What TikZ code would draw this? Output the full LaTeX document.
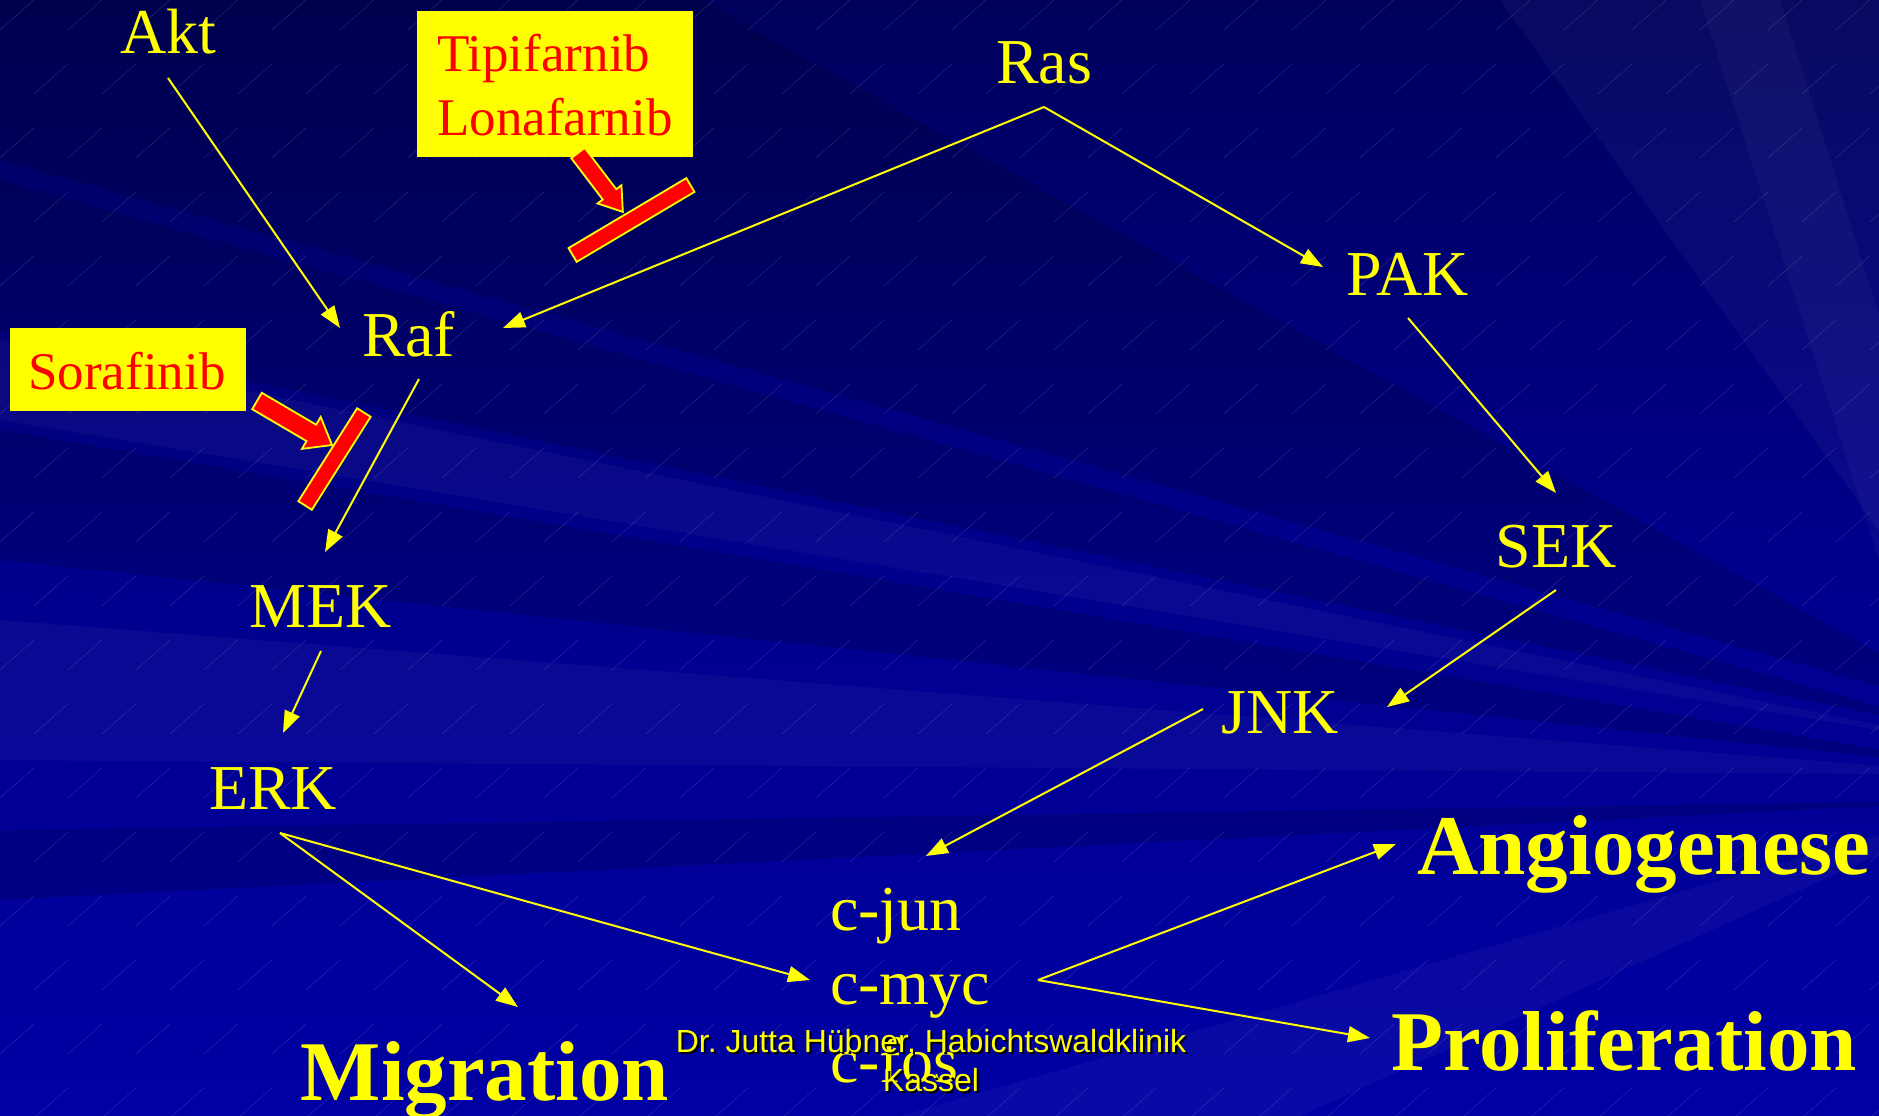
\documentclass[tikz,border=0pt]{standalone}
\usepackage{fontspec}
\setmainfont{Liberation Serif}
\newfontfamily\footfont{Liberation Sans}
\usetikzlibrary{arrows.meta}
\definecolor{bgdark}{HTML}{00005C}
\definecolor{bgmid}{HTML}{00008C}
\definecolor{bglight}{HTML}{0000A4}
\definecolor{ylw}{HTML}{FFFF00}
\definecolor{rd}{HTML}{FF0000}
\tikzset{
  lbl/.style={text=ylw, font=\fontsize{64}{72}\selectfont, inner sep=0pt, anchor=base},
  biglbl/.style={text=ylw, font=\bfseries\fontsize{85}{96}\selectfont, inner sep=0pt, anchor=base},
  drugbox/.style={fill=ylw, inner sep=0pt, draw=none},
  drugtxt/.style={text=rd, font=\fontsize{53}{63}\selectfont, inner sep=0pt},
  conn/.style={draw=ylw, line width=2pt, -{Triangle[length=22pt,width=16pt]}},
  blockarrow/.style={fill=rd, draw=ylw, line width=1.8pt, line join=miter},
  inhibbar/.style={fill=rd, draw=ylw, line width=1.8pt, inner sep=0pt, rectangle},
  ray/.style={fill=white, opacity=0.035},
  darkray/.style={fill=black, opacity=0.14},
  hatch/.style={draw=white, opacity=0.15, line width=0.5pt},
  footer/.style={font=\footfont\fontsize{32}{38}\selectfont, inner sep=0pt, anchor=base}
}
\begin{document}
\begin{tikzpicture}[x=1pt,y=-1pt]
\useasboundingbox (0,0) rectangle (1879,1116);
% background
\shade[top color=bgdark, bottom color=bglight, middle color=bgmid] (0,0) rectangle (1879,1116);
\fill[darkray] (0,0) -- (700,0) -- (2000,720) -- (0,160) -- cycle;
\fill[darkray] (0,180) -- (0,330) -- (2000,740) -- cycle;
\fill[darkray] (0,430) -- (0,560) -- (2000,770) -- cycle;
\fill[darkray] (0,830) -- (0,900) -- (2000,800) -- cycle;
\fill[ray] (0,340) -- (0,420) -- (2000,750) -- cycle;
\fill[ray] (0,620) -- (0,760) -- (2000,775) -- cycle;
\fill[ray] (1500,0) -- (1780,0) -- (2000,700) -- cycle;
\fill[ray] (1700,0) -- (1879,0) -- (1879,560) -- cycle;
\fill[ray] (900,1116) -- (1300,1116) -- (2000,800) -- cycle;
\foreach \i in {-8,...,30} {
  \foreach \j in {0,...,17} {
    \draw[hatch] ({\i*68+\j*34},{\j*64+30}) -- ++(34,-30);
  }
}
% drug boxes
\node[drugbox, minimum width=276pt, minimum height=146pt] (tipibox) at (555,84) {};
\node[drugtxt, anchor=base west] (tipi) at (437,72) {Tipifarnib};
\node[drugtxt, anchor=base west] (lona) at (437,135) {Lonafarnib};
\node[drugbox, minimum width=236pt, minimum height=83pt] (sorabox) at (128,369.5) {};
\node[drugtxt, anchor=base] (sora) at (127,389) {Sorafinib};
% block arrows
\begin{scope}[shift={(578,153)}, rotate=-52.7]
  \draw[blockarrow] (0,-8.5) -- (52,-8.5) -- (52,-15) -- (74,0) -- (52,15) -- (52,8.5) -- (0,8.5) -- cycle;
\end{scope}
\begin{scope}[shift={(257,401)}, rotate=-30.4]
  \draw[blockarrow] (0,-9.5) -- (63,-9.5) -- (63,-18.5) -- (87,0) -- (63,18.5) -- (63,9.5) -- (0,9.5) -- cycle;
\end{scope}
\node[inhibbar, minimum width=137pt, minimum height=16pt, rotate=30.7] (tipibar) at (631.5,220) {};
\node[inhibbar, minimum width=110pt, minimum height=16pt, rotate=57.7] (sorabar) at (334.5,459) {};
% labels
\node[lbl] (akt) at (168,53) {Akt};
\node[lbl] (ras) at (1044,84) {Ras};
\node[lbl] (pak) at (1408,295) {PAK};
\node[lbl] (raf) at (409,356) {Raf};
\node[lbl] (sek) at (1556,567) {SEK};
\node[lbl] (mek) at (321,627) {MEK};
\node[lbl] (jnk) at (1280,733) {JNK};
\node[lbl] (erk) at (273,809) {ERK};
\node[lbl, anchor=base west] (cjun) at (830,930) {c-jun};
\node[lbl, anchor=base west] (cmyc) at (830,1004) {c-myc};
\node[lbl, anchor=base west] (cfos) at (830,1082) {c-fos};
\node[biglbl] (angio) at (1644,874) {Angiogenese};
\node[biglbl] (prolif) at (1624,1070) {Proliferation};
\node[biglbl] (migr) at (485,1100) {Migration};
% footer
\node[footer, text=black] at (933,1054) {Dr.\ Jutta Hübner, Habichtswaldklinik};
\node[footer, text=ylw] (foot1) at (931,1052) {Dr.\ Jutta Hübner, Habichtswaldklinik};
\node[footer, text=black] at (933,1093) {Kassel};
\node[footer, text=ylw] (foot2) at (931,1091) {Kassel};
% connector end points
\coordinate (akt-o) at (168,78);
\coordinate (raf-nw) at (340,328);
\coordinate (ras-o) at (1044,107);
\coordinate (raf-ne) at (503,328);
\coordinate (pak-w) at (1323,267);
\coordinate (pak-o) at (1408,318);
\coordinate (sek-i) at (1556,493);
\coordinate (sek-o) at (1556,590);
\coordinate (jnk-e) at (1387,707);
\coordinate (jnk-o) at (1203,709);
\coordinate (cjun-i) at (926,856);
\coordinate (raf-o) at (419,379);
\coordinate (mek-i) at (325,552);
\coordinate (mek-o) at (321,651);
\coordinate (erk-i) at (283,733);
\coordinate (erk-o) at (280,833);
\coordinate (migr-i) at (518,1007);
\coordinate (cmyc-w) at (810,980);
\coordinate (cmyc-e) at (1038,980);
\coordinate (angio-i) at (1396,844);
\coordinate (prolif-i) at (1370,1038);
% connectors
\draw[conn] (akt-o) -- (raf-nw);
\draw[conn] (ras-o) -- (raf-ne);
\draw[conn] (ras-o) -- (pak-w);
\draw[conn] (pak-o) -- (sek-i);
\draw[conn] (sek-o) -- (jnk-e);
\draw[conn] (jnk-o) -- (cjun-i);
\draw[conn] (raf-o) -- (mek-i);
\draw[conn] (mek-o) -- (erk-i);
\draw[conn] (erk-o) -- (migr-i);
\draw[conn] (erk-o) -- (cmyc-w);
\draw[conn] (cmyc-e) -- (angio-i);
\draw[conn] (cmyc-e) -- (prolif-i);
\end{tikzpicture}
\end{document}
